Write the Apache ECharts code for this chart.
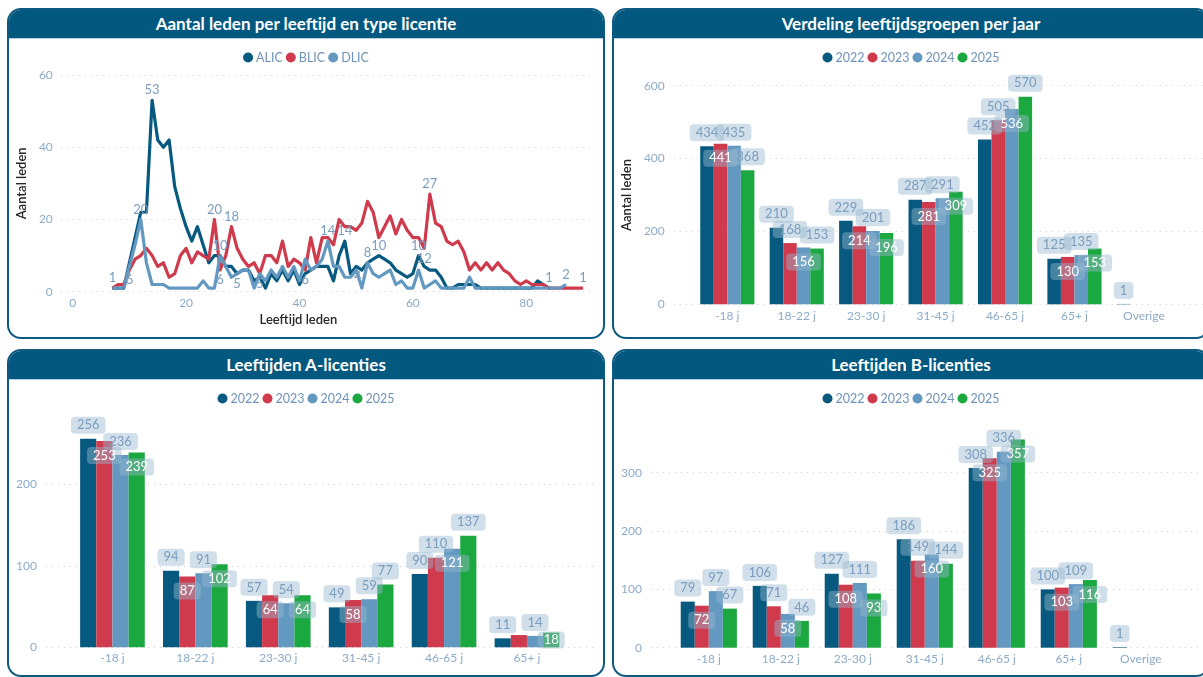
<!DOCTYPE html>
<html>
<head>
<meta charset="utf-8">
<title>Leeftijden leden</title>
<script src="https://cdn.jsdelivr.net/npm/echarts@6.0.0/dist/echarts.min.js"></script>
<style>
    html, body {
        margin: 0;
        padding: 0;
        width: 1203px;
        height: 677px;
        overflow: hidden;
        background: #ffffff;
        font-family: Lato, "Open Sans", sans-serif;
    }
    .panel {
        position: absolute;
        width: 598px;
        box-sizing: border-box;
        border: 2px solid #0c5a7f;
        border-radius: 14px;
        overflow: hidden;
        background: #ffffff;
    }
    .panel .head {
        height: 28px;
        line-height: 28px;
        background: #02587f;
        border-bottom: 1px solid #b9cfdd;
        color: #ffffff;
        font-weight: 700;
        font-size: 17px;
        text-align: center;
    }
    .chart {
        position: absolute;
        width: 598px;
    }
</style>
</head>
<body>
<div class="panel" style="left:7px;top:8px;height:331px;"><div class="head">Aantal leden per leeftijd en type licentie</div></div>
<div class="panel" style="left:612px;top:8px;height:331px;"><div class="head">Verdeling leeftijdsgroepen per jaar</div></div>
<div class="panel" style="left:7px;top:349px;height:328px;"><div class="head">Leeftijden A-licenties</div></div>
<div class="panel" style="left:612px;top:349px;height:328px;"><div class="head">Leeftijden B-licenties</div></div>

<div class="chart" id="chart1" style="left:7px;top:8px;height:331px;"></div>
<div class="chart" id="chart2" style="left:612px;top:8px;height:331px;"></div>
<div class="chart" id="chart3" style="left:7px;top:349px;height:328px;"></div>
<div class="chart" id="chart4" style="left:612px;top:349px;height:328px;"></div>

<script>
// ---- data: leden per leeftijd ----
var ages = [7, 8, 9, 10, 11, 12, 13, 14, 15, 16, 17, 18, 19, 20, 21, 22, 23, 24, 25, 26,
    27, 28, 29, 30, 31, 32, 33, 34, 35, 36, 37, 38, 39, 40, 41, 42, 43, 44, 45, 46,
    47, 48, 49, 50, 51, 52, 53, 54, 55, 56, 57, 58, 59, 60, 61, 62, 63, 64, 65, 66,
    67, 68, 69, 70, 71, 72, 73, 74, 75, 76, 77, 78, 79, 80, 81, 82, 83, 84, 85, 86,
    87, 88, 89, 90];
var alic = [1, 1, 1, 8, 15, 22, 22, 53, 42, 40,
    42, 29, 23, 18, 14, 18, 13, 8, 10, 10,
    7, 7, 5, 6, 6, 3, 4, 1, 5, 3,
    6, 3, 6, 2, 5, 6, 7, 7, 7, 3,
    10, 14, 5, 7, 6, 8, 9, 10, 9, 8,
    6, 5, 4, 5, 10, 7, 6, 6, 4, 1,
    1, 2, 2, 2, 2, 1, 1, 1, 1, 1,
    1, 1, 1, 1, 1, 3, 2, 1];
var blic = [1, 2, 2, 6, 9, 10, 12, 10, 7, 8,
    4, 5, 10, 12, 8, 11, 10, 9, 20, 6,
    10, 18, 12, 9, 7, 8, 5, 10, 10, 8,
    14, 7, 9, 8, 6, 15, 8, 15, 15, 13,
    20, 18, 18, 17, 19, 25, 22, 15, 18, 21,
    16, 20, 17, 15, 15, 12, 27, 19, 18, 14,
    13, 14, 11, 6, 8, 6, 8, 6, 8, 6,
    5, 3, 2, 3, 2, 2, 2, 1, 1, 1,
    1, 1, 1, 1];
var dlic = [1, 1, 1, 7, 13, 20, 8, 2, 2, 2,
    1, 1, 1, 1, 1, 1, 3, 1, 1, 10,
    7, 4, 5, 6, 6, 1, 5, 3, 6, 4,
    7, 4, 7, 3, 9, 6, 7, 9, 14, 7,
    7, 4, 4, 6, 1, 8, 5, 4, 5, 6,
    2, 3, 1, 1, 6, 1, 2, 3, 1, 1,
    1, 1, 1, 4, 1, 1, 1, 1, 1, 1,
    1, 1, 1, 1, 1, 1, 1, 1, 1, 1,
    2];
var ageTicks = [0, 20, 40, 60, 80];

// ---- data: leeftijdsgroepen ----
var groepen = ['-18 j', '18-22 j', '23-30 j', '31-45 j', '46-65 j', '65+ j', 'Overige'];
var jaren = ['2022', '2023', '2024', '2025'];

var totaal2022 = [434, 210, 229, 287, 452, 125, 1];
var totaal2023 = [441, 168, 214, 281, 505, 130];
var totaal2024 = [435, 156, 201, 291, 536, 135];
var totaal2025 = [368, 153, 196, 309, 570, 153];

var alic2022 = [256, 94, 57, 49, 90, 11];
var alic2023 = [253, 87, 64, 58, 110, 15];
var alic2024 = [236, 91, 54, 59, 121, 14];
var alic2025 = [239, 102, 64, 77, 137, 18];

var blic2022 = [79, 106, 127, 186, 308, 100, 1];
var blic2023 = [72, 71, 108, 149, 325, 103];
var blic2024 = [97, 58, 111, 160, 336, 109];
var blic2025 = [67, 46, 93, 144, 357, 116];

// ---- label placing (t = boven, i = binnen, c = midden, '' = verborgen) ----
var lineLabels = {
    ALIC: [[7, 'top'], [14, 'top'], [48, 'top'], [54, 'top'], [61, 'top'], [84, 'top']],
    BLIC: [[10, 'bottom'], [25, 'top'], [26, 'bottom'], [28, 'top'], [41, 'bottom'], [62, 'bottom'], [63, 'top'], [90, 'top']],
    DLIC: [[12, 'top'], [26, 'top'], [29, 'bottom'], [33, 'bottom'], [45, 'top'], [49, 'right'], [52, 'top'], [87, 'top']]
};
var modesTotaal = [['t', 't', 't', 't', 't', 't', 't'], ['i', 't', 'i', 'i', 't', 'i'], ['t', 'i', 't', 't', 'i', 't'], ['t', 't', 'i', 'i', 't', 'i']];
var modesA = [['t', 't', 't', 't', 't', 't'], ['i', 'i', 'i', 'i', 't', ''], ['t', 't', 't', 't', 'i', 't'], ['i', 'i', 'i', 't', 't', 'c']];
var modesB = [['t', 't', 't', 't', 't', 't', 't'], ['i', 't', 'i', 't', 'i', 'i'], ['t', 'i', 't', 'i', 't', 't'], ['t', 't', 'i', 't', 'i', 'i']];

var kleuren = ['#07597f', '#cf3a4c', '#6399c1', '#1ca840'];
var fontFam = 'Lato, "Open Sans", sans-serif';
var axisColor = '#8cabc9';
var legendColor = '#6f93b8';
var labelColor = '#7b9dbf';
var gridLine = {lineStyle: {color: '#cfcfcf', type: [1, 5], width: 1}};

lijnGrafiek();
staafGrafiek('chart2', totaal2022, totaal2023, totaal2024, totaal2025, modesTotaal,
    {barLeft: 80.6, barWidth: 486, top: 77.7, height: 218.6, lineLeft: 60, lineWidth: 560, max: 600, interval: 200, hideMax: false, labelMargin: 6, yName: 'Aantal leden'});
staafGrafiek('chart3', alic2022, alic2023, alic2024, alic2025, modesA,
    {barLeft: 64, barWidth: 497.4, top: 53.8, height: 244.5, lineLeft: 39, lineWidth: 548, max: 300, interval: 100, hideMax: true, labelMargin: 5, cats: 6});
staafGrafiek('chart4', blic2022, blic2023, blic2024, blic2025, modesB,
    {barLeft: 60.8, barWidth: 504, top: 65.4, height: 233.3, lineLeft: 39, lineWidth: 560, max: 400, interval: 100, hideMax: true, labelMargin: 5});

function lijnData(values, labels) {
    var lab = {};
    labels.forEach(function (l) { lab[l[0]] = l[1]; });
    return values.map(function (v, i) {
        var age = ages[i];
        if (lab[age]) {
            return {value: [age, v], label: {show: true, position: lab[age]}};
        }
        return [age, v];
    });
}

function legende(data) {
    return {
        top: 38,
        left: 'center',
        icon: 'circle',
        itemWidth: 10,
        itemHeight: 10,
        itemGap: 3,
        textStyle: {color: legendColor, fontSize: 12.5, fontFamily: fontFam, padding: [0, 0, 0, -2]},
        data: data
    };
}

function lijnGrafiek() {
    var myChart = echarts.init(document.getElementById('chart1'));
    var namen = ['ALIC', 'BLIC', 'DLIC'];
    var reeksen = [alic, blic, dlic];

    var option = {
        animation: false,
        textStyle: {fontFamily: fontFam},
        color: [kleuren[0], kleuren[1], kleuren[2]],
        legend: legende(namen),
        grid: {left: 51, top: 67, width: 534, height: 216.7},
        xAxis: {
            type: 'value',
            min: -2.1,
            max: 91.6,
            name: 'Leeftijd leden',
            nameLocation: 'middle',
            nameGap: 22,
            nameTextStyle: {color: '#262626', fontSize: 13, fontWeight: 600, padding: [0, 56, 0, 0]},
            axisLine: {show: false},
            axisTick: {show: false},
            splitLine: {show: false},
            axisLabel: {customValues: ageTicks, color: axisColor, fontSize: 12, margin: 5}
        },
        yAxis: {
            type: 'value',
            min: 0,
            max: 60,
            interval: 20,
            name: 'Aantal leden',
            nameLocation: 'middle',
            nameGap: 25,
            nameTextStyle: {color: '#262626', fontSize: 13, fontWeight: 600},
            axisLine: {show: false},
            axisTick: {show: false},
            axisLabel: {color: axisColor, fontSize: 12, margin: 8},
            splitLine: gridLine
        },
        series: namen.map(function (n, k) {
            return {
                name: n,
                type: 'line',
                symbol: 'circle',
                symbolSize: 1,
                lineStyle: {width: 3.2, join: 'round'},
                label: {show: false, color: labelColor, fontSize: 13, distance: 3},
                data: lijnData(reeksen[k], lineLabels[n])
            };
        })
    };
    myChart.setOption(option);
}

function labelVoor(mode) {
    if (mode === 't') {
        return {show: true, position: 'top', distance: 5};
    }
    if (mode === 'i') {
        return {show: true, position: 'insideTop', distance: 6, color: '#ffffff'};
    }
    if (mode === 'c') {
        return {show: true, position: 'inside', color: '#ffffff'};
    }
    return {show: false};
}

function staafGrafiek(id, v2022, v2023, v2024, v2025, modes, box) {
    var myChart = echarts.init(document.getElementById(id));
    var reeksen = [v2022, v2023, v2024, v2025];
    var cats = box.cats ? groepen.slice(0, box.cats) : groepen;

    var option = {
        animation: false,
        textStyle: {fontFamily: fontFam},
        color: kleuren,
        legend: legende(jaren),
        grid: [
            {left: box.barLeft, top: box.top, width: box.barWidth, height: box.height},
            {left: box.lineLeft, top: box.top, width: box.lineWidth, height: box.height}
        ],
        xAxis: [{
            type: 'category',
            gridIndex: 0,
            data: cats,
            axisLine: {show: false},
            axisTick: {show: false},
            axisLabel: {color: axisColor, fontSize: 12, margin: box.labelMargin}
        }, {
            type: 'value',
            gridIndex: 1,
            show: false
        }],
        yAxis: [{
            type: 'value',
            gridIndex: 0,
            min: 0,
            max: box.max,
            interval: box.interval,
            show: false
        }, {
            type: 'value',
            gridIndex: 1,
            min: 0,
            max: box.max,
            interval: box.interval,
            name: box.yName || '',
            nameLocation: 'middle',
            nameGap: 33,
            nameTextStyle: {color: '#262626', fontSize: 13, fontWeight: 600},
            axisLine: {show: false},
            axisTick: {show: false},
            axisLabel: {color: axisColor, fontSize: 12, margin: 9, showMaxLabel: !box.hideMax},
            splitLine: {
                show: true,
                showMaxLine: !box.hideMax,
                lineStyle: gridLine.lineStyle
            }
        }],
        series: jaren.map(function (j, k) {
            return {
                name: j,
                type: 'bar',
                xAxisIndex: 0,
                yAxisIndex: 0,
                barGap: 0,
                barCategoryGap: '22%',
                label: {
                    color: labelColor,
                    fontSize: 13,
                    lineHeight: 13,
                    backgroundColor: 'rgba(150,185,207,0.45)',
                    padding: [2, 6],
                    borderRadius: 4
                },
                data: reeksen[k].map(function (v, i) {
                    return {value: v, label: labelVoor(modes[k][i])};
                })
            };
        })
    };
    myChart.setOption(option);
}
</script>
</body>
</html>
